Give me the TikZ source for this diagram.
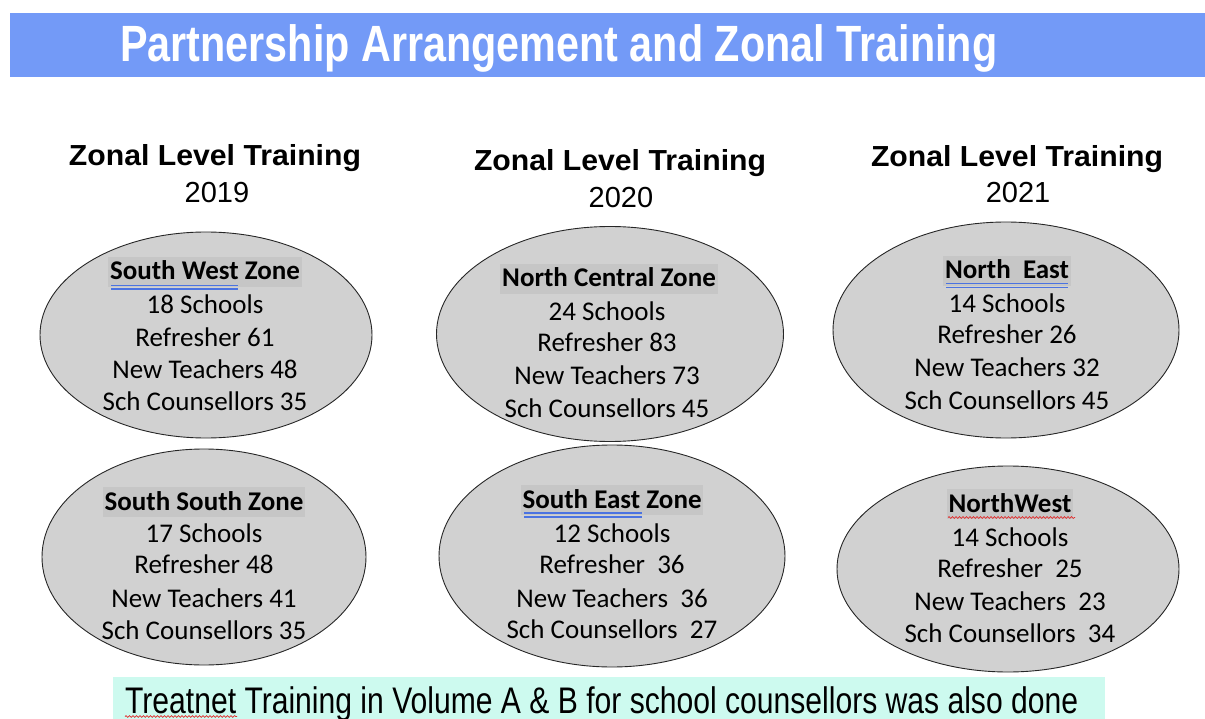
\documentclass[tikz,border=0pt]{standalone}
\usepackage{fontspec}
\setmainfont{Carlito}
\newfontfamily\arial{Liberation Sans}
\usetikzlibrary{shapes.geometric,decorations.pathmorphing}
\definecolor{banner}{RGB}{115,154,247}
\definecolor{ellfill}{RGB}{209,209,209}
\definecolor{hlfill}{RGB}{198,198,198}
\definecolor{mint}{RGB}{205,250,239}
\definecolor{spellblue}{RGB}{75,115,225}
\definecolor{spellred}{RGB}{225,45,45}
\tikzset{
  zone/.style={draw=black!85, line width=0.9pt, fill=ellfill, ellipse, inner sep=0pt},
  zline/.style={anchor=base, inner sep=0pt, font=\fontsize{27}{30}\selectfont},
  zhead/.style={anchor=base, font=\fontsize{27}{30}\selectfont\bfseries, fill=hlfill,
     text height=20pt, text depth=4pt, inner xsep=2pt, inner ysep=3pt},
  yhead/.style={anchor=base, inner sep=0pt, font=\arial\fontsize{29}{33}\selectfont\bfseries},
  yearlbl/.style={anchor=base, inner sep=0pt, font=\arial\fontsize{29}{33}\selectfont},
  dblline/.style={spellblue, line width=1.1pt},
  wavyline/.style={spellred, line width=0.7pt, decorate, decoration={snake, amplitude=0.9pt, segment length=3.5pt}}
}
\begin{document}
\begin{tikzpicture}[x=1pt,y=-1pt]
\useasboundingbox (0,0) rectangle (1205,719);
% banner
\path[fill=banner] (10,13) rectangle (1205,77);
\node[anchor=base west, inner sep=0pt, text=white] (title) at (120,62)
  {\resizebox{877pt}{\height}{\arial\fontsize{51}{56}\selectfont\bfseries Partnership Arrangement and Zonal Training}};
% year headings
\node[yhead] (h1) at (215,166) {\resizebox{292pt}{\height}{Zonal Level Training}};
\node[yearlbl] (y1) at (217,203) {2019};
\node[yhead] (h2) at (620,171) {\resizebox{292pt}{\height}{Zonal Level Training}};
\node[yearlbl] (y2) at (621,208) {2020};
\node[yhead] (h3) at (1017,167) {\resizebox{292pt}{\height}{Zonal Level Training}};
\node[yearlbl] (y3) at (1018,203) {2021};
% ellipses
\node[zone, minimum width=332pt, minimum height=206pt] (e1) at (206,335) {};
\node[zone, minimum width=324pt, minimum height=216pt] (e2) at (204,557) {};
\node[zone, minimum width=347pt, minimum height=215pt] (e3) at (610,334) {};
\node[zone, minimum width=346pt, minimum height=222pt] (e4) at (612,556) {};
\node[zone, minimum width=346pt, minimum height=216pt] (e5) at (1006,330) {};
\node[zone, minimum width=342pt, minimum height=206pt] (e6) at (1008,569) {};
% E1 South West
\node[zhead] (t1a) at (205,280) {South West Zone};
\node[zline] (t1b) at (205,314) {18 Schools};
\node[zline] (t1c) at (205,346) {Refresher 61};
\node[zline] (t1d) at (205,378) {New Teachers 48};
\node[zline] (t1e) at (205,410) {Sch Counsellors 35};
% E2 South South
\node[zhead] (t2a) at (204,510) {South South Zone};
\node[zline] (t2b) at (204,542) {17 Schools};
\node[zline] (t2c) at (204,573) {Refresher 48};
\node[zline] (t2d) at (204,607) {New Teachers 41};
\node[zline] (t2e) at (204,639) {Sch Counsellors 35};
% E3 North Central
\node[zhead] (t3a) at (609,287) {North Central Zone};
\node[zline] (t3b) at (607,320) {24 Schools};
\node[zline] (t3c) at (607,352) {Refresher 83};
\node[zline] (t3d) at (607,384) {New Teachers 73};
\node[zline] (t3e) at (607,417) {Sch Counsellors 45};
% E4 South East
\node[zhead] (t4a) at (612,508) {South East Zone};
\node[zline] (t4b) at (612,542) {12 Schools};
\node[zline] (t4c) at (612,573) {Refresher\ \ 36};
\node[zline] (t4d) at (612,607) {New Teachers\ \ 36};
\node[zline] (t4e) at (612,638) {Sch Counsellors\ \ 27};
% E5 North East
\node[zhead] (t5a) at (1007,279) {North\ \ East};
\node[zline] (t5b) at (1007,313) {14 Schools};
\node[zline] (t5c) at (1007,344) {Refresher 26};
\node[zline] (t5d) at (1007,377) {New Teachers 32};
\node[zline] (t5e) at (1007,409) {Sch Counsellors 45};
% E6 NorthWest
\node[zhead] (t6a) at (1010,512) {NorthWest};
\node[zline] (t6b) at (1010,546) {14 Schools};
\node[zline] (t6c) at (1010,577) {Refresher\ \ 25};
\node[zline] (t6d) at (1010,610) {New Teachers\ \ 23};
\node[zline] (t6e) at (1010,642) {Sch Counsellors\ \ 34};
% spell-check marks
\draw[dblline] (111,285.5) -- (238,285.5) (111,289) -- (238,289);
\draw[dblline] (524,513) -- (642,513) (524,517) -- (642,517);
\draw[dblline] (946,283.5) -- (1068,283.5) (946,287.5) -- (1068,287.5);
\draw[wavyline] (948,517.5) -- (1075,517.5);
% bottom note
\path[fill=mint] (113,677) rectangle (1105,719);
\node[anchor=base west, inner sep=0pt] (note) at (125,713)
  {\resizebox{953pt}{\height}{\arial\fontsize{37}{42}\selectfont Treatnet Training in Volume A \& B for school counsellors was also done}};
\draw[wavyline] (125,716.5) -- (237,716.5);
\end{tikzpicture}
\end{document}
